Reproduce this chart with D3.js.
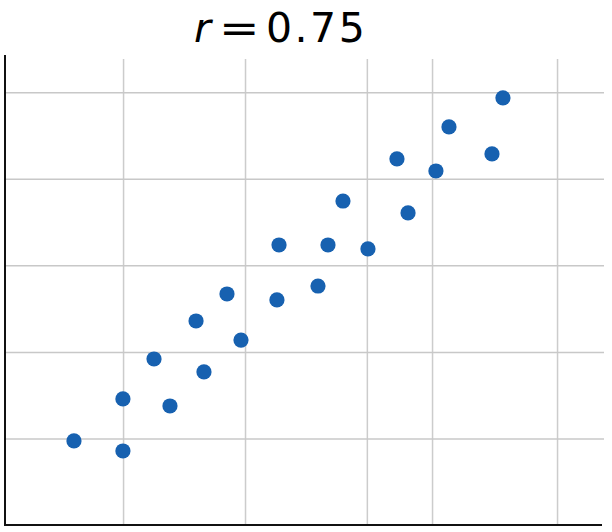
<!DOCTYPE html>
<html><head><meta charset="utf-8">
<script src="https://cdn.jsdelivr.net/npm/d3@7"></script>
<style>html,body{margin:0;padding:0;background:#fff;}svg{display:block;}</style>
</head><body>
<script>
const xValues = [0.566,0.968,0.968,1.223,1.354,1.568,1.633,1.822,1.937,2.232,2.249,2.569,2.651,2.774,2.979,3.217,3.308,3.537,3.644,3.997,4.087];
const yValues = [0.971,0.855,1.456,1.918,1.375,2.357,1.768,2.669,2.137,2.600,3.235,2.761,3.235,3.743,3.189,4.229,3.605,4.090,4.599,4.287,4.934];
const xTicks = [0.969,1.970,2.970,3.505,4.531];
const yTicks = [1,2,3,4,5];
const titleParts = ["r", "=", "0.75"];

const W = 612, H = 532;
const svg = d3.select("body").append("svg").attr("width", W).attr("height", H);
const x = d3.scaleLinear().domain([0, 4.9]).range([5, 602]);
const y = d3.scaleLinear().domain([0, 5.43]).range([525, 55]);

// grid
svg.append("g").attr("transform","translate(0,525)")
  .call(d3.axisBottom(x).tickValues(xTicks).tickSize(-466).tickFormat(""))
  .call(g=>g.select(".domain").remove())
  .call(g=>g.selectAll("line").attr("stroke","#cccccc").attr("stroke-width",1.5));
svg.append("g").attr("transform","translate(5,0)")
  .call(d3.axisLeft(y).tickValues(yTicks).tickSize(-599).tickFormat(""))
  .call(g=>g.select(".domain").remove())
  .call(g=>g.selectAll("line").attr("stroke","#c8c8c8").attr("stroke-width",1.5));

// axes lines
svg.append("line").attr("x1",x(0)).attr("x2",x(0)).attr("y1",y(5.43)).attr("y2",y(0)+1)
  .attr("stroke","#111").attr("stroke-width",2);
svg.append("line").attr("x1",x(0)-1).attr("x2",x(4.9)).attr("y1",y(0)).attr("y2",y(0))
  .attr("stroke","#111").attr("stroke-width",2);

// points
svg.append("g").selectAll("circle").data(xValues.map((v,i)=>[v,yValues[i]])).join("circle")
  .attr("cx",d=>x(d[0])).attr("cy",d=>y(d[1])).attr("r",7.6).attr("fill","#1761b0");

// title
const tg = svg.append("g").attr("font-family","DejaVu Sans, sans-serif").attr("font-size",41).attr("fill","#000");
tg.append("text").attr("x",194).attr("y",42).attr("font-style","italic").text(titleParts[0]);
tg.append("text").attr("transform","translate(219,42) scale(1.18,1)").text(titleParts[1]);
tg.append("text").attr("x",266).attr("y",42).attr("letter-spacing",2.5).text(titleParts[2]);
</script>
</body></html>
